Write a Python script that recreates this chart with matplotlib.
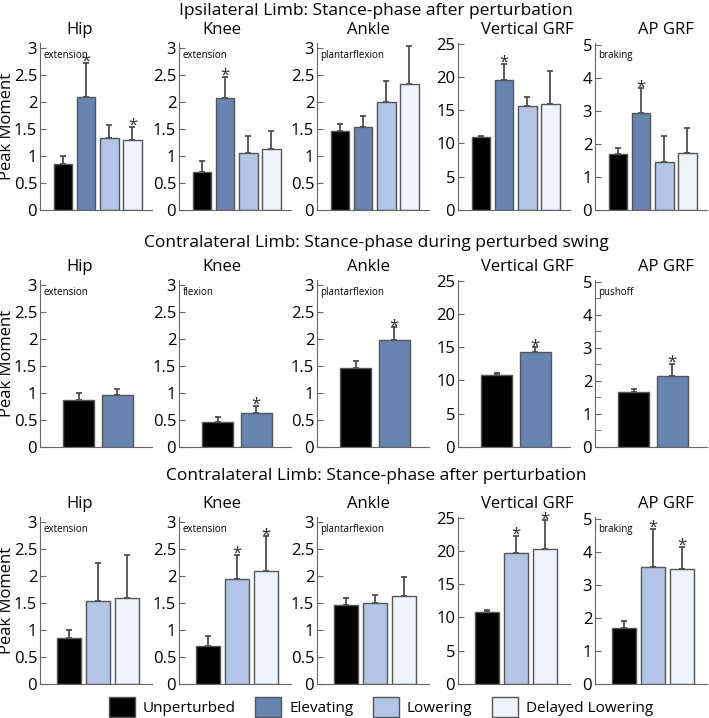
import numpy as np
import matplotlib
matplotlib.use("Agg")
import matplotlib.pyplot as plt
from matplotlib.patches import Patch

plt.rcParams['font.family'] = ['Open Sans', 'DejaVu Sans']
plt.rcParams['font.size'] = 11

# condition colours
conds = ['Unperturbed', 'Elevating', 'Lowering', 'Delayed Lowering']
colors = ['#000000', '#6785b0', '#b3c5e7', '#eef3fb']

panels = ['Hip', 'Knee', 'Ankle', 'Vertical GRF', 'AP GRF']
row_titles = ['Ipsilateral Limb: Stance-phase after perturbation',
              'Contralateral Limb: Stance-phase during perturbed swing',
              'Contralateral Limb: Stance-phase after perturbation']
directions = [['extension', 'extension', 'plantarflexion', '', 'braking'],
              ['extension', 'flexion', 'plantarflexion', '', 'pushoff'],
              ['extension', 'extension', 'plantarflexion', '', 'braking']]
row_conds = [[0, 1, 2, 3], [0, 1], [0, 2, 3]]

# ipsilateral, after perturbation
ipsi_mean = [[0.86, 2.09, 1.34, 1.30],
             [0.70, 2.08, 1.05, 1.14],
             [1.46, 1.54, 2.00, 2.33],
             [10.9, 19.5, 15.65, 15.9],
             [1.68, 2.94, 1.45, 1.73]]
ipsi_sd = [[0.14, 0.64, 0.23, 0.24],
           [0.21, 0.39, 0.32, 0.32],
           [0.13, 0.20, 0.40, 0.72],
           [0.2, 2.5, 1.35, 4.95],
           [0.19, 0.74, 0.80, 0.76]]
ipsi_sig = [[0, 1, 0, 1], [0, 1, 0, 0], [0, 0, 0, 0], [0, 1, 0, 0], [0, 1, 0, 0]]

# contralateral, during perturbed swing
swing_mean = [[0.87, 0.97],
              [0.46, 0.63],
              [1.47, 1.98],
              [10.85, 14.3],
              [1.67, 2.16]]
swing_sd = [[0.13, 0.11],
            [0.10, 0.13],
            [0.12, 0.24],
            [0.3, 0.7],
            [0.09, 0.35]]
swing_sig = [[0, 0], [0, 1], [0, 1], [0, 1], [0, 1]]

# contralateral, after perturbation
contra_mean = [[0.86, 1.54, 1.60],
               [0.70, 1.94, 2.10],
               [1.46, 1.51, 1.63],
               [10.85, 19.65, 20.35],
               [1.69, 3.54, 3.47]]
contra_sd = [[0.14, 0.71, 0.80],
             [0.20, 0.46, 0.64],
             [0.13, 0.15, 0.36],
             [0.3, 2.6, 4.25],
             [0.20, 1.16, 0.68]]
contra_sig = [[0, 0, 0], [0, 1, 1], [0, 0, 0], [0, 1, 1], [0, 1, 1]]

means = [ipsi_mean, swing_mean, contra_mean]
sds = [ipsi_sd, swing_sd, contra_sd]
sigs = [ipsi_sig, swing_sig, contra_sig]

W, H = 709, 718
fig = plt.figure(figsize=(W / 100, H / 100), dpi=100)

col_left = [40, 179, 317, 458, 595]
ax_w = 112
row_top = [43, 280, 517]
ax_h = 167
title_frac = [0.35, 0.38, 0.46, 0.62, 0.63]
row_title_y = [11, 243, 476]
xmax = [4.85, 2.9, 3.86]

for r in range(3):
    fig.text(376 / W, 1 - row_title_y[r] / H, row_titles[r], ha='center', va='center', fontsize=12.5)
    n = len(row_conds[r])
    x = np.arange(1, n + 1)
    for c in range(5):
        ax = fig.add_axes([col_left[c] / W, 1 - (row_top[r] + ax_h) / H, ax_w / W, ax_h / H])
        m = np.array(means[r][c])
        s = np.array(sds[r][c])
        cols = [colors[k] for k in row_conds[r]]
        ax.bar(x, m, width=0.8, color=cols, edgecolor='#555555', linewidth=1.0, zorder=2)
        ax.errorbar(x, m, yerr=[np.zeros(n), s], fmt='none', ecolor='#4d4d4d',
                    elinewidth=1.3, capsize=2.5, capthick=1.3, zorder=1)
        if c < 3:
            ymax = 3.1
            ax.set_yticks(np.arange(0, 3.01, 0.5))
            ax.set_yticklabels(['0', '0.5', '1', '1.5', '2', '2.5', '3'])
            star_off = 0.02
        elif c == 3:
            ymax = 25.1
            ax.set_yticks(np.arange(0, 26, 5))
            star_off = 0.15
        else:
            ymax = 5.05
            ax.set_yticks(np.arange(0, 6, 1))
            if r == 1:
                ax.set_yticks(np.arange(0.5, 5, 1), minor=True)
            star_off = 0.03
        ax.set_ylim(0, ymax)
        ax.set_xlim(0, xmax[r])
        ax.set_xticks([])
        for i in range(n):
            if sigs[r][c][i]:
                ax.text(x[i], m[i] + s[i] + star_off, '*', ha='center', va='center',
                        fontsize=12, color='#2a2a2a')
        if directions[r][c]:
            ax.text(0.03, 0.96, directions[r][c], transform=ax.transAxes,
                    ha='left', va='top', fontsize=7)
        ax.text(title_frac[c], 1.03, panels[c], transform=ax.transAxes,
                ha='center', va='bottom', fontsize=12)
        ax.spines['top'].set_visible(False)
        ax.spines['right'].set_visible(False)
        ax.spines['left'].set_color('#666666')
        ax.spines['bottom'].set_color('#666666')
        ax.tick_params(axis='y', which='both', direction='in', length=4, color='#666666',
                       labelsize=12, pad=2)
        ax.tick_params(axis='x', length=0)
        if c == 0:
            fig.text(7 / W, 1 - (row_top[r] + ax_h / 2) / H, 'Peak Moment', rotation=90,
                     ha='center', va='center', fontsize=12)

handles = [Patch(facecolor=colors[k], edgecolor='#555555', label=conds[k]) for k in range(4)]
fig.legend(handles=handles, loc='center', bbox_to_anchor=(381 / W, 1 - 707 / H), ncol=4,
           frameon=False, fontsize=11, handlelength=1.7, handleheight=1.6,
           columnspacing=1.3, handletextpad=0.5, borderpad=0.1)

fig.savefig('out.png', dpi=100)
